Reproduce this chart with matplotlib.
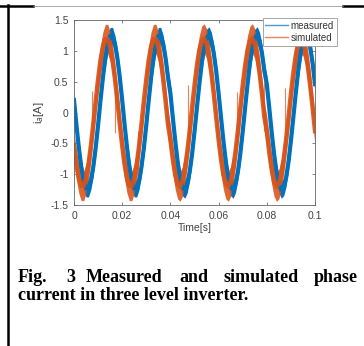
import matplotlib
matplotlib.use('Agg')
import matplotlib.pyplot as plt
import numpy as np
from matplotlib.lines import Line2D

plt.rcParams['font.family'] = ['Liberation Sans', 'DejaVu Sans']

# sample times (1 ms grid)
t = np.arange(0, 101) * 1e-3

# measured phase current, centre of the noisy band, read every 1 ms
measured = [
    0.20, -0.20, -0.57, -0.88, -1.11, -1.23, -1.23, -1.11, -0.88, -0.57,
    -0.20, 0.20, 0.57, 0.88, 1.11, 1.24, 1.24, 1.11, 0.88, 0.57,
    0.20, -0.20, -0.57, -0.88, -1.11, -1.23, -1.23, -1.11, -0.88, -0.57,
    -0.20, 0.20, 0.57, 0.88, 1.11, 1.24, 1.24, 1.11, 0.88, 0.57,
    0.31, -0.08, -0.46, -0.80, -1.06, -1.21, -1.25, -1.16, -0.96, -0.67,
    -0.31, 0.08, 0.46, 0.80, 1.06, 1.21, 1.25, 1.16, 0.96, 0.67,
    0.31, -0.08, -0.46, -0.80, -1.06, -1.21, -1.25, -1.16, -0.96, -0.67,
    -0.31, 0.08, 0.46, 0.80, 1.06, 1.21, 1.25, 1.16, 0.96, 0.67,
    0.46, 0.08, -0.31, -0.67, -0.96, -1.16, -1.25, -1.21, -1.06, -0.80,
    -0.46, -0.08, 0.31, 0.67, 0.96, 1.16, 1.25, 1.21, 1.06, 0.80,
    0.46,
]

# simulated phase current, centre of the noisy band
simulated = [
    -0.54, -0.85, -1.07, -1.19, -1.19, -1.07, -0.85, -0.54, -0.19, 0.19,
    0.54, 0.85, 1.07, 1.19, 1.19, 1.07, 0.85, 0.54, 0.19, -0.19,
    -0.54, -0.85, -1.07, -1.19, -1.19, -1.07, -0.85, -0.54, -0.19, 0.19,
    0.54, 0.85, 1.07, 1.19, 1.19, 1.07, 0.85, 0.54, 0.19, -0.19,
    -0.44, -0.76, -1.01, -1.16, -1.20, -1.12, -0.92, -0.64, -0.30, 0.08,
    0.44, 0.76, 1.01, 1.16, 1.20, 1.12, 0.92, 0.64, 0.30, -0.08,
    -0.44, -0.76, -1.01, -1.16, -1.20, -1.12, -0.92, -0.64, -0.30, 0.08,
    0.44, 0.76, 1.01, 1.16, 1.20, 1.12, 0.92, 0.64, 0.30, -0.08,
    -0.30, -0.64, -0.92, -1.12, -1.20, -1.16, -1.01, -0.76, -0.44, -0.08,
    0.30, 0.64, 0.92, 1.12, 1.20, 1.16, 1.01, 0.76, 0.44, 0.08,
    -0.30,
]

# half width of the switching ripple band
measured_ripple = 0.14
simulated_ripple = 0.24

# isolated spikes on the simulated trace: time, low, high
spike_t = [0.0075, 0.017, 0.0266, 0.0475, 0.0676, 0.079, 0.0876]
spike_lo = [-0.30, -0.33, -1.00, -0.45, -0.40, -0.30, -0.60]
spike_hi = [0.35, 0.50, -0.30, 0.45, 0.33, 0.50, 0.40]

blue = '#0072BD'
orange = '#D95319'

fig = plt.figure(figsize=(3.64, 3.46), dpi=100)
ax = fig.add_axes([0.2033, 0.4075, 0.6621, 0.5347])

m = np.array(measured)
s = np.array(simulated)
ax.fill_between(t, m - measured_ripple, m + measured_ripple, color=blue, lw=0)
ax.plot(t, m, color=blue, lw=3)
ax.fill_between(t, s - simulated_ripple, s + simulated_ripple, color=orange, lw=0, alpha=0.88)
ax.plot(t, s, color=orange, lw=3.2, alpha=0.9)
ax.vlines(spike_t, spike_lo, spike_hi, color=orange, lw=0.8, alpha=0.7)

ax.set_xlim(0, 0.1)
ax.set_ylim(-1.5, 1.5)
ax.set_xticks([0, 0.02, 0.04, 0.06, 0.08, 0.1])
ax.set_xticklabels(['0', '0.02', '0.04', '0.06', '0.08', '0.1'])
ax.set_yticks([-1.5, -1, -0.5, 0, 0.5, 1, 1.5])
ax.set_yticklabels(['-1.5', '-1', '-0.5', '0', '0.5', '1', '1.5'])
ax.tick_params(direction='in', top=True, right=True, length=2.5, width=0.5,
               labelsize=7.5, labelcolor='#444444', color='#555555', pad=4)
for sp in ax.spines.values():
    sp.set_color('#666666')
    sp.set_linewidth(0.6)
ax.set_xlabel('Time[s]', fontsize=7.5, color='#444444', labelpad=2)
ax.set_ylabel('i$_a$[A]', fontsize=8, color='#444444', labelpad=3)

handles = [Line2D([], [], color='#4a9ad6', lw=1), Line2D([], [], color='#e8875a', lw=1)]
leg = ax.legend(handles, ['measured', 'simulated'], loc='upper right',
                bbox_to_anchor=(1.091, 1.011), borderaxespad=0, fontsize=7,
                handlelength=2.3, handletextpad=0.3, borderpad=0.3,
                labelspacing=0.2, fancybox=False, framealpha=1)
leg.get_frame().set_edgecolor('#999999')
leg.get_frame().set_linewidth(0.6)
for txt in leg.get_texts():
    txt.set_color('#333333')

# page frame around the figure
W, H = 364.0, 346.0
fig.add_artist(Line2D([0, 33 / W], [1 - 6 / H, 1 - 6 / H], color='black', lw=1.8))
fig.add_artist(Line2D([343 / W, 1], [1 - 6 / H, 1 - 6 / H], color='black', lw=1.8))
fig.add_artist(Line2D([33 / W, 343 / W], [1 - 6 / H, 1 - 6 / H], color='#888888', lw=0.5))
fig.add_artist(Line2D([8 / W, 8 / W], [0, 1 - 5 / H], color='black', lw=1.8))

# caption, first line justified word by word
cap = dict(fontsize=13, fontweight='bold', family='Liberation Serif', va='center')
y1 = 1 - 277 / H
fig.text(18 / W, y1, 'Fig.', ha='left', **cap)
fig.text(66 / W, y1, '3', ha='left', **cap)
fig.text(86 / W, y1, 'Measured', ha='left', **cap)
fig.text(179 / W, y1, 'and', ha='left', **cap)
fig.text(223 / W, y1, 'simulated', ha='left', **cap)
fig.text(358 / W, y1, 'phase', ha='right', **cap)
fig.text(18 / W, 1 - 296 / H, 'current in three level inverter.', ha='left', **cap)

fig.savefig('out.png', dpi=100)
